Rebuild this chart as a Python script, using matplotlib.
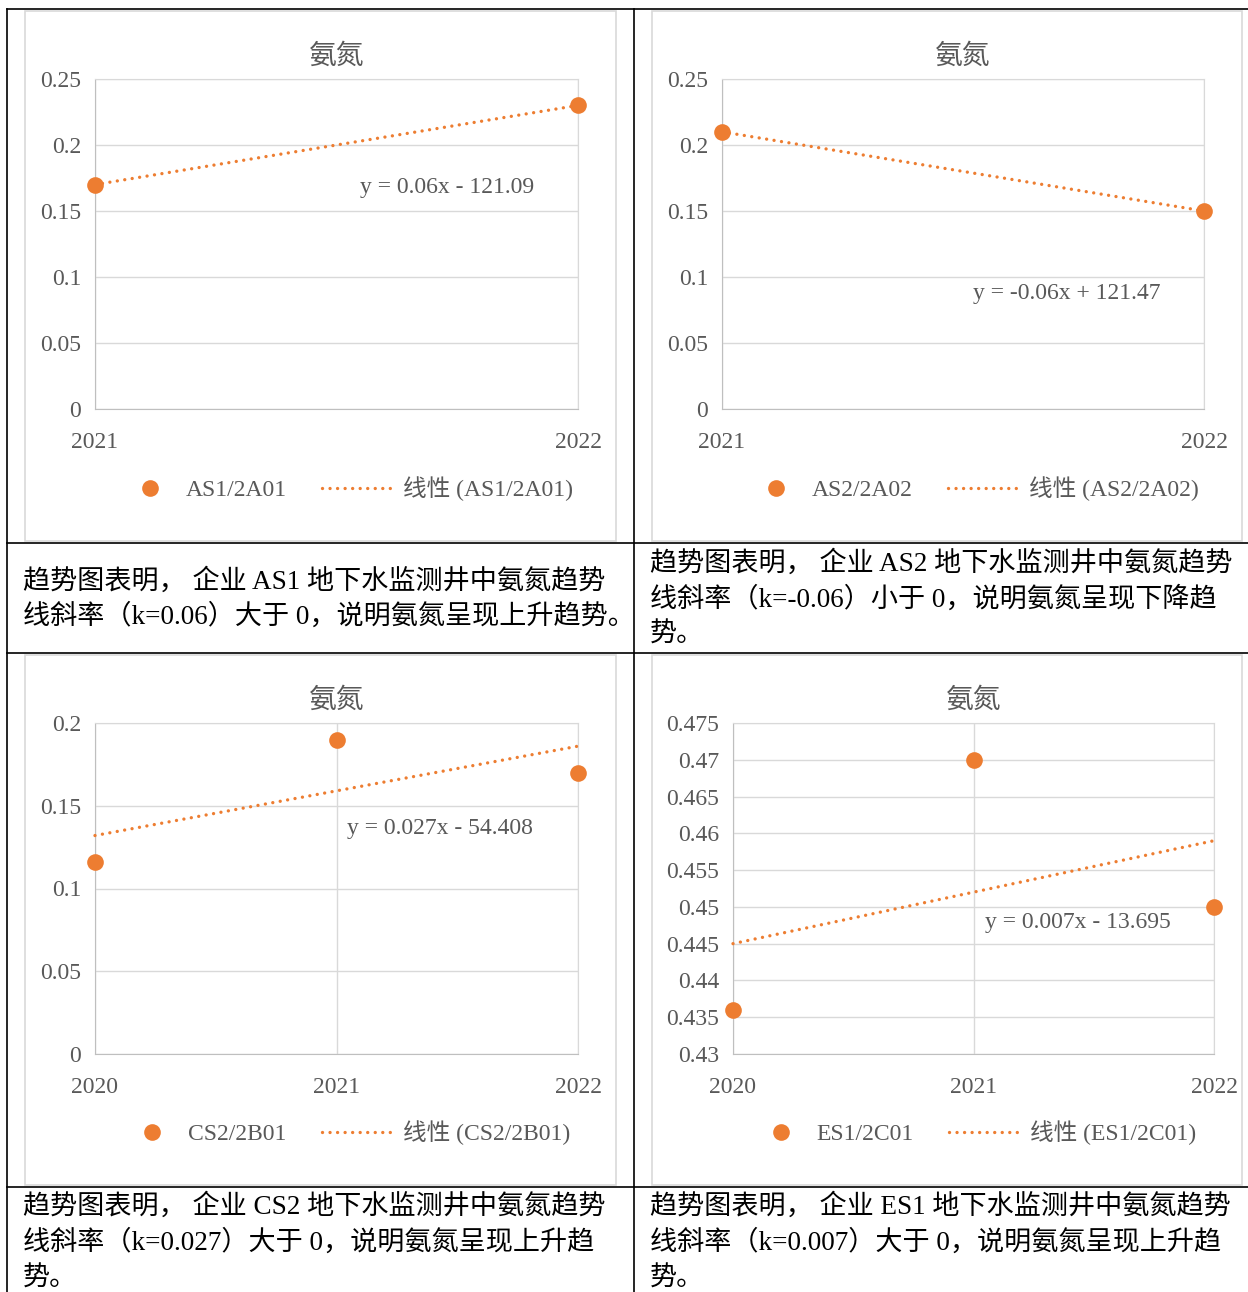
import numpy as np
import matplotlib
matplotlib.use('Agg')
import matplotlib.pyplot as plt
from matplotlib.patches import Rectangle
from matplotlib.legend_handler import HandlerLine2D
from matplotlib.ticker import MultipleLocator, FuncFormatter

plt.rcParams['font.family'] = ['Liberation Serif', 'Noto Sans CJK SC']

# 各企业地下水监测井氨氮数据
years_as1 = [2021, 2022]
nh3_as1 = [0.17, 0.23]
years_as2 = [2021, 2022]
nh3_as2 = [0.21, 0.15]
years_cs2 = [2020, 2021, 2022]
nh3_cs2 = [0.116, 0.19, 0.17]
years_es1 = [2020, 2021, 2022]
nh3_es1 = [0.436, 0.47, 0.45]

wells = ['AS1/2A01', 'AS2/2A02', 'CS2/2B01', 'ES1/2C01']
companies = ['AS1', 'AS2', 'CS2', 'ES1']
y_ranges = [(0, 0.25, 0.05), (0, 0.25, 0.05), (0, 0.2, 0.05), (0.43, 0.475, 0.005)]

ORANGE = '#ED7D31'
GREY = '#595959'
W, H = 1248, 1292

fig = plt.figure(figsize=(W / 100, H / 100), dpi=100)

# 底层坐标系用像素坐标画表格线和文字
bg = fig.add_axes([0, 0, 1, 1])
bg.set_xlim(0, W)
bg.set_ylim(H, 0)
bg.axis('off')

for y in [9, 543, 653, 1187]:
    bg.plot([7, W], [y, y], color='black', lw=1.2)
for x in [7, 634]:
    bg.plot([x, x], [9, H], color='black', lw=1.2)

# 图表区外框
for fx, fy in [(25, 11), (652, 11), (25, 655), (652, 655)]:
    bg.add_patch(Rectangle((fx, fy), 591 if fx == 25 else 590, 530,
                           fill=False, edgecolor='#D9D9D9', lw=1.2))


def fit_line(years, values):
    k, b = np.polyfit(years, values, 1)
    return round(k, 3), round(b, 3)


def draw_chart(box, years, values, well, yr, eq_pos, legend_xy):
    x0, y0, x1, y1 = box
    ax = fig.add_axes([x0 / W, 1 - y1 / H, (x1 - x0) / W, (y1 - y0) / H])
    k, b = fit_line(years, values)
    xs = np.array([years[0], years[-1]], dtype=float)
    trend, = ax.plot(xs, k * xs + b, color=ORANGE, lw=2.4,
                     linestyle=(0, (0.01, 2.25)), dash_capstyle='round',
                     label=f'线性 ({well})', zorder=3, clip_on=False)
    pts, = ax.plot(years, values, 'o', color=ORANGE, ms=12, mec='none',
                   label=well, zorder=4, clip_on=False)

    ax.set_xlim(years[0], years[-1])
    ax.set_ylim(yr[0], yr[1])
    ax.set_xticks(years)
    ax.yaxis.set_major_locator(MultipleLocator(yr[2]))
    ax.yaxis.set_major_formatter(FuncFormatter(lambda v, p: f'{v:g}'))
    ax.grid(True, color='#D9D9D9', lw=1)
    ax.set_axisbelow(True)
    for s in ['top', 'right']:
        ax.spines[s].set_color('#D9D9D9')
    for s in ['left', 'bottom']:
        ax.spines[s].set_color('#BFBFBF')
    ax.tick_params(axis='both', length=0, labelsize=17, labelcolor=GREY)
    ax.tick_params(axis='x', pad=16.5)
    ax.tick_params(axis='y', pad=10)
    ax.set_title('氨氮', fontsize=20, color=GREY, pad=11)

    sign = '-' if b < 0 else '+'
    ax.text(eq_pos[0], eq_pos[1], f'y = {k:g}x {sign} {abs(b):g}',
            transform=ax.transAxes, fontsize=17, color=GREY, va='center')

    # 图例：散点标记靠近文字
    ax.legend(handles=[pts, trend], loc='center', ncol=2,
              bbox_to_anchor=(legend_xy[0] / W, 1 - legend_xy[1] / H),
              bbox_transform=fig.transFigure, frameon=False, fontsize=17,
              labelcolor=GREY, handlelength=2.9, handletextpad=0.5,
              columnspacing=1.5, borderpad=0, markerscale=1,
              handler_map={pts: HandlerLine2D(xpad=0.85)})
    return k


draw_chart((95, 79, 578, 409), years_as1, nh3_as1, wells[0], y_ranges[0], (0.549, 0.67), (339, 489))
draw_chart((722, 79, 1204, 409), years_as2, nh3_as2, wells[1], y_ranges[1], (0.521, 0.349), (965, 489))
draw_chart((95, 723, 578, 1054), years_cs2, nh3_cs2, wells[2], y_ranges[2], (0.522, 0.68), (339, 1133))
draw_chart((733, 723, 1214, 1054), years_es1, nh3_es1, wells[3], y_ranges[3], (0.524, 0.396), (966, 1133))

# 趋势说明文字
k_as1 = fit_line(years_as1, nh3_as1)[0]
k_as2 = fit_line(years_as2, nh3_as2)[0]
k_cs2 = fit_line(years_cs2, nh3_cs2)[0]
k_es1 = fit_line(years_es1, nh3_es1)[0]

notes = [
    (23, [581, 617], [f'趋势图表明， 企业 {companies[0]} 地下水监测井中氨氮趋势',
                      f'线斜率（k={k_as1:g}）大于 0，说明氨氮呈现上升趋势。']),
    (650, [563, 600, 635], [f'趋势图表明， 企业 {companies[1]} 地下水监测井中氨氮趋势',
                            f'线斜率（k={k_as2:g}）小于 0，说明氨氮呈现下降趋',
                            '势。']),
    (23, [1206, 1243, 1279], [f'趋势图表明， 企业 {companies[2]} 地下水监测井中氨氮趋势',
                              f'线斜率（k={k_cs2:g}）大于 0，说明氨氮呈现上升趋',
                              '势。']),
    (650, [1206, 1243, 1279], [f'趋势图表明， 企业 {companies[3]} 地下水监测井中氨氮趋势',
                               f'线斜率（k={k_es1:g}）大于 0，说明氨氮呈现上升趋',
                               '势。']),
]
for x, ys, lines in notes:
    for y, line in zip(ys, lines):
        bg.text(x, y, line, fontsize=19.5, color='black', va='center', ha='left')

fig.savefig('out.png', dpi=100)
